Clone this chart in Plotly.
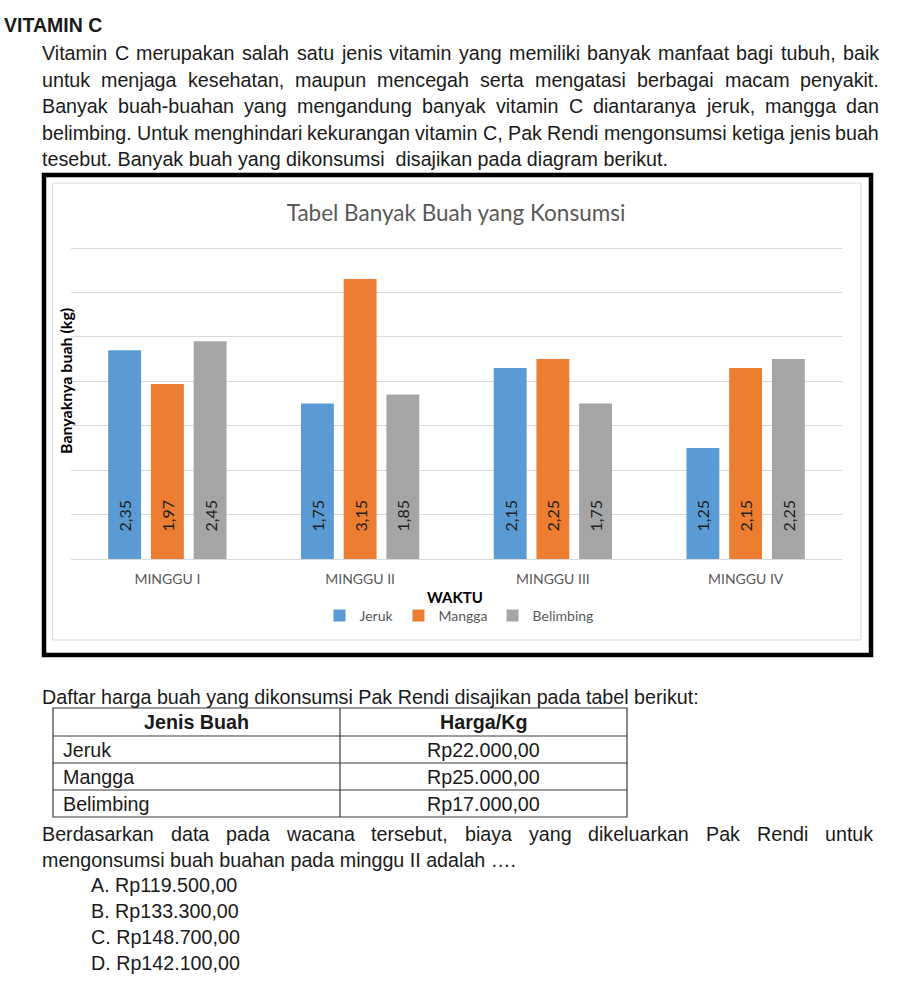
import plotly.graph_objects as go

# ---------------- data ----------------
weeks = ["MINGGU I", "MINGGU II", "MINGGU III", "MINGGU IV"]
jeruk = [2.35, 1.75, 2.15, 1.25]
mangga = [1.97, 3.15, 2.25, 2.15]
belimbing = [2.45, 1.85, 1.75, 2.25]
series_names = ["Jeruk", "Mangga", "Belimbing"]
series_colors = ["#5B9BD5", "#ED7D31", "#A5A5A5"]

fruits = ["Jeruk", "Mangga", "Belimbing"]
prices = [22000, 25000, 17000]
table_header = ["Jenis Buah", "Harga/Kg"]

options = ["A. Rp119.500,00", "B. Rp133.300,00", "C. Rp148.700,00", "D. Rp142.100,00"]

heading = "VITAMIN C"
para1 = [
    "Vitamin C merupakan salah satu jenis vitamin yang memiliki banyak manfaat bagi tubuh, baik",
    "untuk menjaga kesehatan, maupun mencegah serta mengatasi berbagai macam penyakit.",
    "Banyak buah-buahan yang mengandung banyak vitamin C diantaranya jeruk, mangga dan",
    "belimbing. Untuk menghindari kekurangan vitamin C, Pak Rendi mengonsumsi ketiga jenis buah",
    "tesebut. Banyak buah yang dikonsumsi\u00a0 disajikan pada diagram berikut.",
]
table_intro = "Daftar harga buah yang dikonsumsi Pak Rendi disajikan pada tabel berikut:"
para2 = [
    "Berdasarkan data pada wacana tersebut, biaya yang dikeluarkan Pak Rendi untuk",
    "mengonsumsi buah buahan pada minggu II adalah \u2026.",
]
chart_title = "Tabel Banyak Buah yang Konsumsi"
y_title = "Banyaknya buah (kg)"
x_title = "WAKTU"

# ---------------- helpers ----------------
W, H = 905, 981


def X(px):
    return px / W


def Y(py):
    return 1 - py / H


ARIAL = {" ": 278, "!": 278, "(": 333, ")": 333, ",": 278, "-": 333, ".": 278, "/": 278,
         ":": 278, "\u2026": 1000, "\u00a0": 278}
for d in "0123456789":
    ARIAL[d] = 556
ARIAL.update(dict(zip("ABCDEFGHIJKLMNOPQRSTUVWXYZ",
                      [667, 667, 722, 722, 667, 611, 778, 722, 278, 500, 667, 556, 833,
                       722, 778, 667, 778, 722, 667, 611, 722, 667, 944, 667, 667, 611])))
ARIAL.update(dict(zip("abcdefghijklmnopqrstuvwxyz",
                      [556, 556, 500, 556, 556, 278, 556, 556, 222, 222, 500, 222, 833,
                       556, 556, 556, 556, 333, 500, 278, 556, 500, 722, 500, 500, 500])))


def text_width(s, size):
    return sum(ARIAL.get(c, 556) for c in s) * size / 1000.0


BODY = "Liberation Sans, Arial, sans-serif"
CHART = "Lato, Calibri, sans-serif"
INK = "#1a1a1a"
FS = 19.7

annotations = []


def add_text(s, x, y, size=FS, bold=False, anchor="left", color=INK, family=BODY, angle=0):
    if bold:
        s = "<b>" + s + "</b>"
    annotations.append(dict(text=s, x=X(x), y=Y(y), xref="paper", yref="paper",
                            xanchor=anchor, yanchor="middle", showarrow=False,
                            borderpad=0, borderwidth=0, textangle=angle,
                            font=dict(family=family, size=size, color=color)))


def justify(s, x0, x1, y, size=FS):
    words = s.split(" ")
    widths = [text_width(w, size) for w in words]
    gap = (x1 - x0 - sum(widths)) / (len(words) - 1)
    x = x0
    for w, wd in zip(words, widths):
        add_text(w, x, y, size)
        x += wd + gap


def rupiah(v):
    s = f"{v:,.2f}"
    return "Rp" + s.replace(",", "#").replace(".", ",").replace("#", ".")


# ---------------- page text ----------------
add_text(heading, 4, 25, size=19.5, bold=True)
p1_y = [53, 80, 106, 133, 159]
for i, (line, yy) in enumerate(zip(para1, p1_y)):
    if i < len(para1) - 1:
        justify(line, 42, 879, yy)
    else:
        add_text(line, 42, yy)

add_text(table_intro, 42, 697)

# table
tx0, tmid, tx1 = 53, 340, 627
row_edges = [708, 736, 763, 790, 817]
shapes = []
TL = dict(color="#3a3a3a", width=1.2)
shapes.append(dict(type="rect", xref="paper", yref="paper", x0=X(tx0), x1=X(tx1),
                   y0=Y(row_edges[-1]), y1=Y(row_edges[0]), line=TL))
for ry in row_edges[1:-1]:
    shapes.append(dict(type="line", xref="paper", yref="paper", x0=X(tx0), x1=X(tx1),
                       y0=Y(ry), y1=Y(ry), line=TL))
shapes.append(dict(type="line", xref="paper", yref="paper", x0=X(tmid), x1=X(tmid),
                   y0=Y(row_edges[0]), y1=Y(row_edges[-1]), line=TL))
hy = (row_edges[0] + row_edges[1]) / 2
add_text(table_header[0], (tx0 + tmid) / 2, hy, bold=True, anchor="center")
add_text(table_header[1], (tmid + tx1) / 2, hy, bold=True, anchor="center")
for i, (f, p) in enumerate(zip(fruits, prices)):
    ry = (row_edges[i + 1] + row_edges[i + 2]) / 2
    add_text(f, tx0 + 10, ry)
    add_text(rupiah(p), (tmid + tx1) / 2, ry, anchor="center")

justify(para2[0], 42, 873, 834)
add_text(para2[1], 42, 860)
for opt, yy in zip(options, [885, 911, 937, 963]):
    add_text(opt, 91, yy)

# chart frame
shapes.append(dict(type="rect", xref="paper", yref="paper", x0=X(44), x1=X(871),
                   y0=Y(655), y1=Y(175), line=dict(color="#000000", width=4.5)))
shapes.append(dict(type="rect", xref="paper", yref="paper", x0=X(52.5), x1=X(861),
                   y0=Y(640), y1=Y(183), line=dict(color="#D9D9D9", width=1)))

# chart text
add_text(y_title, 65, 381, size=16, bold=True, anchor="center", color="#000000",
         family=CHART, angle=-90)
add_text(x_title, 455, 597, size=15, bold=True, anchor="center", color="#000000",
         family=CHART)

# ---------------- bars ----------------
fig = go.Figure()
for name, vals, col in zip(series_names, [jeruk, mangga, belimbing], series_colors):
    fig.add_trace(go.Bar(
        name=name, x=weeks, y=vals, marker=dict(color=col, line=dict(width=0)),
        texttemplate="\u00a0" * 6 + "%{y:.2f}", textposition="inside",
        insidetextanchor="start", textangle=-90, constraintext="none",
        textfont=dict(family=CHART, size=16, color="#1f1f1f"),
    ))

# y scale: baseline at 559 px, 3.5 at 248 px; extend range a little so the
# top gridline is drawn
base_px, top_px, top_val = 559, 248, 3.5
ymax = 3.53
ppu = (base_px - top_px) / top_val

fig.update_layout(
    width=W, height=H, margin=dict(l=0, r=0, t=0, b=0),
    paper_bgcolor="white", plot_bgcolor="white",
    separators=",.",
    barmode="group", bargap=0.335, bargroupgap=0.23,
    title=dict(text=chart_title, x=X(456), xanchor="center", y=Y(213), yanchor="middle",
               font=dict(family=CHART, size=22.5, color="#595959")),
    xaxis=dict(domain=[X(71), X(842)], showgrid=False, showline=False, ticks="",
               tickfont=dict(family=CHART, size=14, color="#595959"),
               ticklabelstandoff=10),
    yaxis=dict(domain=[Y(base_px), Y(base_px - ymax * ppu)], range=[0, ymax], dtick=0.5,
               showticklabels=False, ticks="", showgrid=True, gridcolor="#D9D9D9",
               gridwidth=1, zeroline=True, zerolinecolor="#D9D9D9", zerolinewidth=1,
               showline=False),
    showlegend=True,
    legend=dict(orientation="h", x=X(459), xanchor="center", y=Y(616), yanchor="middle",
                font=dict(family=CHART, size=14, color="#595959"),
                itemwidth=30, bgcolor="rgba(0,0,0,0)", traceorder="normal"),
    annotations=annotations,
    shapes=shapes,
)

fig.write_html("out.html", config={"displayModeBar": False},
               post_script="document.body.style.margin='0';document.body.style.padding='0';")
